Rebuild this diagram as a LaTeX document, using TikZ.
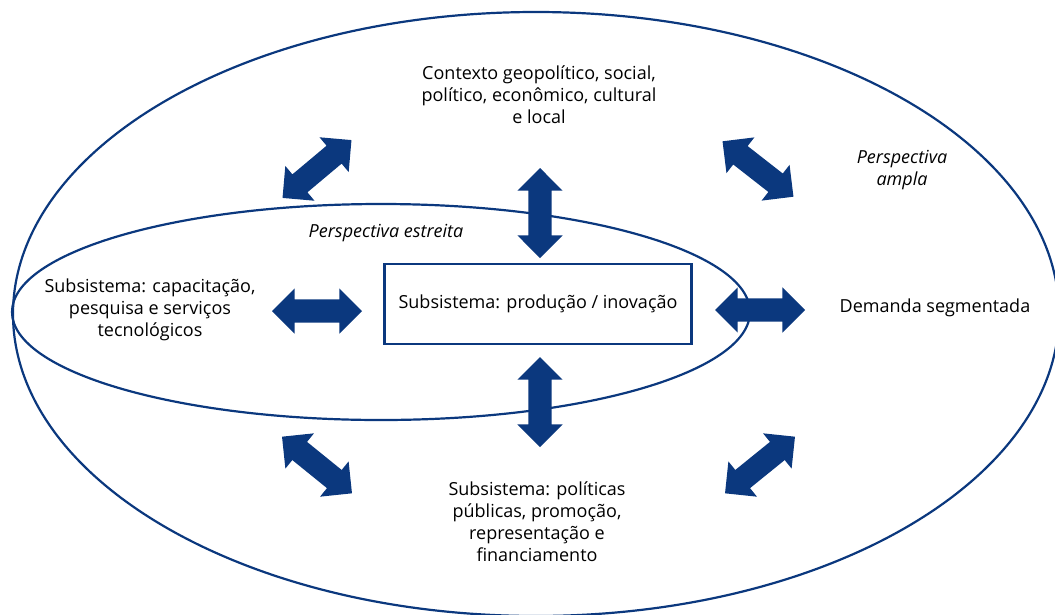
\documentclass[tikz,border=0pt]{standalone}
\usepackage{fontspec}
\setmainfont{Open Sans}
\usetikzlibrary{shapes.arrows}
\definecolor{azulescuro}{RGB}{11,56,126}

\begin{document}
\begin{tikzpicture}[x=1pt, y=-1pt,
    texto/.style={align=center, font=\fontsize{18}{22}\selectfont},
    rotulo/.style={texto, font=\fontsize{18}{22}\selectfont\itshape},
    elipse/.style={draw=azulescuro, line width=2.2pt},
    setadupla/.style={double arrow, fill=azulescuro, draw=none, inner sep=0pt,
      inner ysep=11.5pt, double arrow head extend=11pt, minimum height=90pt}]
  \useasboundingbox (0,0) rectangle (1055,614);
  \clip (0,0) rectangle (1055,614);

  % Perspectivas
  \draw[elipse] (536,314) ellipse [x radius=523pt, y radius=302pt];
  \draw[elipse] (381,312) ellipse [x radius=369pt, y radius=108pt];
  \node[rotulo] (ampla) at (902,170) {Perspectiva\\ampla};
  \node[rotulo] (estreita) at (386,233) {Perspectiva estreita};

  % Subsistemas e contexto
  \node[texto, draw=azulescuro, line width=2.2pt, minimum width=307pt,
    minimum height=80pt] (producao) at (538,304) {Subsistema: produção / inovação};
  \node[texto] (contexto) at (539,95) {Contexto geopolítico, social,\\político, econômico, cultural\\e local};
  \node[texto] (capacitacao) at (150,310) {Subsistema: capacitação,\\pesquisa e serviços\\tecnológicos};
  \node[texto] (demanda) at (935,308) {Demanda segmentada};
  \node[texto] (politicas) at (537,522) {Subsistema: políticas\\públicas, promoção,\\representação e\\financiamento};

  % Setas duplas
  \foreach \nome/\x/\y/\ang in {setacima/540/213/90, setabaixo/540/402/90,
      setaesq/317/311/0, setadir/760/310/0,
      diagcimaesq/317/169/40, diagcimadir/758/169/-38,
      diagbaixoesq/317/465/-39, diagbaixodir/760/465/39} {
    \node[setadupla, rotate=\ang] (\nome) at (\x,\y) {};
  }
\end{tikzpicture}
\end{document}
